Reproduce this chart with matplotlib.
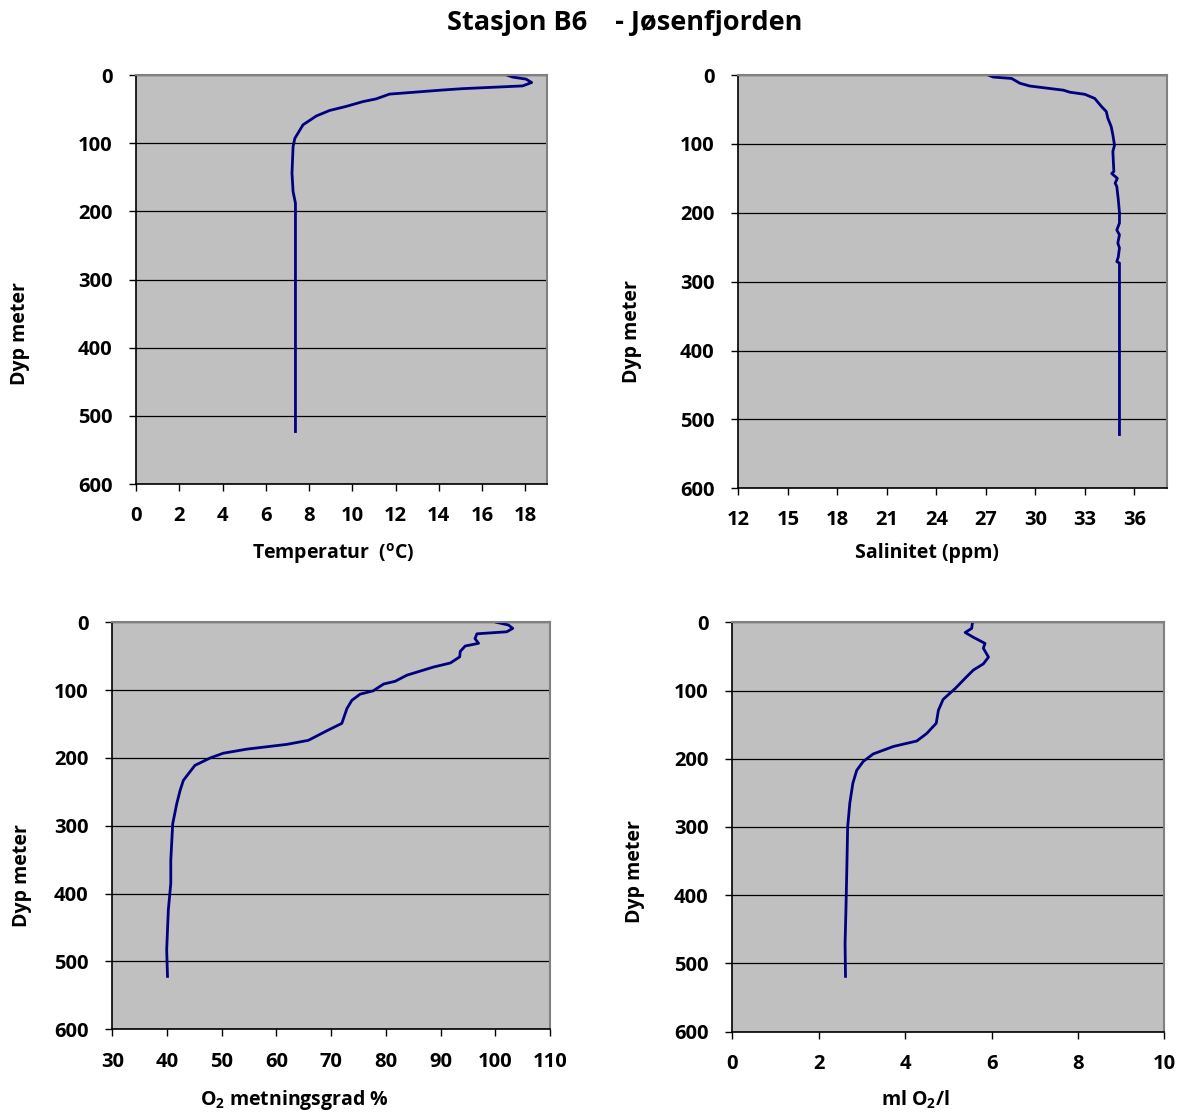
import numpy as np
import matplotlib
matplotlib.use("Agg")
import matplotlib.pyplot as plt

plt.rcParams['font.family'] = ['Open Sans', 'DejaVu Sans']
plt.rcParams['font.weight'] = 'bold'
plt.rcParams['mathtext.default'] = 'regular'

# temperature profile (degC vs depth m)
temp = [17.15, 17.4, 18.03, 18.29, 17.87, 15.1, 14.18, 11.72, 11.1, 10.49, 9.72, 8.95,
        8.34, 7.72, 7.34, 7.26, 7.21, 7.26, 7.37, 7.37, 7.37]
temp_depth = [0, 3, 6, 11, 16, 20, 22, 28, 35, 39, 46, 52, 60, 73, 93, 105, 144, 171, 188,
              300, 523]

# salinity profile
sal = [27.15, 27.45, 28.56, 29.07, 29.67, 31.7, 32.1, 33.0, 33.6, 34.02, 34.3, 34.4, 34.6,
       34.7, 34.8, 34.7, 34.76, 34.63, 34.97, 34.84, 34.94, 35.03, 35.1, 35.1, 34.94, 35.1,
       35.0, 35.1, 35.03, 34.94, 35.1, 35.1]
sal_depth = [0, 3, 5, 12, 16, 22, 25, 28, 34, 46, 53, 63, 75, 87, 102, 111, 140, 143, 150,
             157, 162, 181, 200, 215, 225, 232, 244, 251, 264, 271, 273, 522]

# oxygen saturation (%)
o2sat = [100.2, 102.4, 103.2, 102.1, 96.65, 96.3, 96.95, 94.5, 93.6, 93.5, 91.8, 88.7,
         83.85, 81.7, 79.6, 77.7, 75.3, 73.8, 72.9, 71.96, 69.2, 65.85, 61.9, 54.6, 50.3,
         47.9, 45.1, 43.0, 42.4, 41.8, 41.05, 40.7, 40.7, 40.25, 39.95, 40.1]
o2sat_depth = [0, 4, 9, 14, 17, 24, 31, 35, 43, 51, 60, 66, 78, 87, 91, 101, 106, 115, 127,
               149, 160, 174, 180, 187, 193, 200, 211, 233, 248, 267, 297, 351, 385, 424,
               483, 522]

# oxygen (ml O2/l)
o2ml = [5.56, 5.54, 5.39, 5.58, 5.85, 5.81, 5.93, 5.81, 5.58, 5.39, 5.16, 4.88, 4.77, 4.72,
        4.50, 4.27, 3.73, 3.26, 3.03, 2.88, 2.79, 2.72, 2.67, 2.65, 2.63, 2.61, 2.62]
o2ml_depth = [0, 9, 15, 22, 31, 38, 51, 61, 70, 82, 97, 113, 129, 148, 163, 174, 182, 193,
              204, 217, 236, 265, 300, 363, 422, 471, 519]

panels = [
    dict(x=temp, y=temp_depth, xlim=(0, 19), xticks=np.arange(0, 19, 2),
         xlabel='Temperatur  ($^o$C)', pos=[0.1149, 0.5651, 0.3471, 0.3675],
         xl=(0.479, -0.171), yl=(-0.282, 0.369)),
    dict(x=sal, y=sal_depth, xlim=(12, 38), xticks=np.arange(12, 37, 3),
         xlabel='Salinitet (ppm)', pos=[0.6236, 0.5613, 0.3623, 0.3713],
         xl=(0.44, -0.157), yl=(-0.248, 0.378)),
    dict(x=o2sat, y=o2sat_depth, xlim=(30, 110), xticks=np.arange(30, 111, 10),
         xlabel='O$_2$ metningsgrad %', pos=[0.0948, 0.0752, 0.3697, 0.3657],
         xl=(0.417, -0.174), yl=(-0.206, 0.377)),
    dict(x=o2ml, y=o2ml_depth, xlim=(0, 10), xticks=np.arange(0, 11, 2),
         xlabel='ml O$_2$/l', pos=[0.6185, 0.0731, 0.3649, 0.3678],
         xl=(0.423, -0.167), yl=(-0.225, 0.39)),
]

fig = plt.figure(figsize=(11.84, 11.13), dpi=100)
fig.text(0.528, 0.979, 'Stasjon B6    - Jøsenfjorden', ha='center', va='center',
         fontsize=19.5, fontweight='bold')

for p in panels:
    ax = fig.add_axes(p['pos'])
    ax.set_facecolor('#C0C0C0')
    ax.plot(p['x'], p['y'], color='#000080', lw=2)
    ax.set_xlim(*p['xlim'])
    ax.set_ylim(600, 0)
    ax.set_xticks(p['xticks'])
    ax.set_yticks(np.arange(0, 601, 100))
    ax.grid(axis='y', color='black', lw=0.9)
    ax.set_axisbelow(True)
    ax.tick_params(direction='out', length=5, width=1, labelsize=14.5)
    ax.tick_params(axis='y', pad=12)
    ax.tick_params(axis='x', pad=11)
    for lab in ax.get_xticklabels() + ax.get_yticklabels():
        lab.set_fontweight('bold')
    for s in ['top', 'right']:
        ax.spines[s].set_color('#808080')
        ax.spines[s].set_linewidth(1.5)
    for s in ['left', 'bottom']:
        ax.spines[s].set_color('black')
        ax.spines[s].set_linewidth(1.2)
    ax.set_xlabel(p['xlabel'], fontsize=14, fontweight='bold', va='center')
    ax.xaxis.set_label_coords(*p['xl'])
    ax.set_ylabel('Dyp meter', fontsize=14, fontweight='bold', va='center')
    ax.yaxis.set_label_coords(*p['yl'])

fig.savefig('out.png', dpi=100)
